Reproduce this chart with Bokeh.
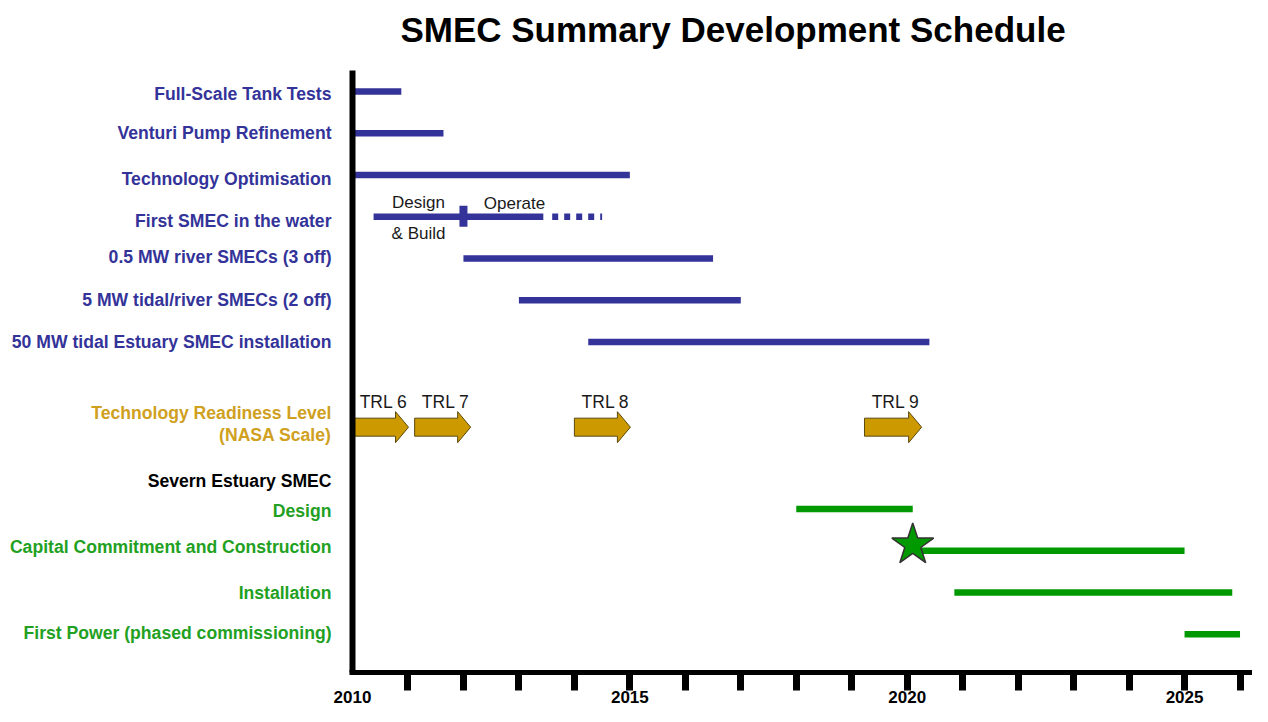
from bokeh.plotting import figure
from bokeh.models import Range1d, LinearAxis, FixedTicker, ColumnDataSource
from bokeh.core.properties import value
from bokeh.embed import file_html
from bokeh.resources import INLINE

# ---------------- data ----------------
chart_title = "SMEC Summary Development Schedule"

blue_tasks = ["Full-Scale Tank Tests", "Venturi Pump Refinement", "Technology Optimisation",
              "First SMEC in the water", "0.5 MW river SMECs (3 off)",
              "5 MW tidal/river SMECs (2 off)", "50 MW tidal Estuary SMEC installation"]
blue_rows = [0, 1, 2, 3, 4, 5, 6]
blue_start = [2010.0, 2010.0, 2010.0, 2010.38, 2012.0, 2013.0, 2014.25]
blue_end = [2010.88, 2011.64, 2015.0, 2013.44, 2016.5, 2017.0, 2020.4]

first_smec_row = 3
first_smec_milestone = 2012.0
first_smec_planned_start = 2013.6
first_smec_planned_end = 2014.5
phase_labels = ["Design", "& Build", "Operate"]
phase_x = [2011.19, 2011.19, 2012.92]

trl_labels = ["TRL 6", "TRL 7", "TRL 8", "TRL 9"]
trl_start = [2010.0, 2011.12, 2014.0, 2019.23]
trl_end = [2011.01, 2012.13, 2015.01, 2020.26]
trl_row = 8.04

green_tasks = ["Design", "Capital Commitment and Construction", "Installation",
               "First Power (phased commissioning)"]
green_rows = [10, 11, 12, 13]
green_start = [2018.0, 2020.1, 2020.85, 2025.0]
green_end = [2020.1, 2025.0, 2025.86, 2026.0]
commit_star_x = 2020.1
commit_star_row = 10.86

row_labels = blue_tasks + ["Technology Readiness Level", "(NASA Scale)", "Severn Estuary SMEC"] + green_tasks
label_rows = [0.07, 1.0, 2.1, 3.09, 3.97, 5.0, 6.0, 7.7, 8.22, 9.32, 10.04, 10.92, 12.02, 12.98]

year_ticks = list(range(2011, 2027))
year_labels = [2010, 2015, 2020, 2025]

# ---------------- layout / style ----------------
BLUE = "#333399"
GREEN = "#009900"
GREEN_TXT = "#22A022"
GOLD = "#CC9900"
GOLD_TXT = "#D0A020"
FONT = "Liberation Sans"

W, H = 1252, 706
PX_YEAR = 55.47          # pixels per year
X2010 = 352              # canvas x of 2010
PX_ROW = 41.75           # pixels per row
ROW0 = 91                # canvas y of row 0
FRAME_BOTTOM = 672
TICK_LEN = 18


def dx(px):
    return px / PX_YEAR


def dy(px):
    return px / PX_ROW


x_range = Range1d(2010 - dx(X2010), 2010 + dx(W - X2010))
y_range = Range1d(start=dy(FRAME_BOTTOM - ROW0), end=dy(0 - ROW0))

p = figure(width=W, height=H, x_range=x_range, y_range=y_range,
           x_axis_type=None, y_axis_type=None, title=None,
           output_backend="svg", toolbar_location=None,
           min_border_left=0, min_border_right=0, min_border_top=0,
           min_border_bottom=H - FRAME_BOTTOM)
p.outline_line_color = None
p.background_fill_color = "white"
p.border_fill_color = "white"

# title
p.text(x=[2010 + dx(732.5 - X2010)], y=[dy(29 - ROW0)], text=[chart_title],
       text_align="center", text_baseline="middle", text_font=value(FONT),
       text_font_style="bold", text_font_size="35px", text_color="black")

# blue task bars
bar_h = dy(6.5)
p.hbar(y=blue_rows, left=blue_start, right=blue_end, height=bar_h,
       fill_color=BLUE, line_color=None)
# planned (dotted) operation of first SMEC
p.segment(x0=[first_smec_planned_start], y0=[first_smec_row],
          x1=[first_smec_planned_end], y1=[first_smec_row],
          line_color=BLUE, line_width=6.5, line_dash="6 6")
# design/build -> operate milestone
p.segment(x0=[first_smec_milestone], y0=[first_smec_row - dy(11)],
          x1=[first_smec_milestone], y1=[first_smec_row + dy(10)],
          line_color=BLUE, line_width=8)
phase_y = [first_smec_row - dy(14), first_smec_row + dy(17), first_smec_row - dy(13)]
p.text(x=phase_x, y=phase_y, text=phase_labels, text_align="center", text_baseline="middle",
       text_font=value(FONT), text_font_size="17px", text_color="#1a1a1a")

# TRL arrows
head_l = dx(13)
body_h = dy(9)
head_h = dy(15.5)
axs, ays = [], []
for s, e in zip(trl_start, trl_end):
    axs.append([s, e - head_l, e - head_l, e, e - head_l, e - head_l, s])
    ays.append([trl_row - body_h, trl_row - body_h, trl_row - head_h, trl_row,
                trl_row + head_h, trl_row + body_h, trl_row + body_h])
p.patches(xs=axs, ys=ays, fill_color=GOLD, line_color="#5a4a10", line_width=1)
p.text(x=[s + dx(31) for s in trl_start], y=[trl_row - dy(25.5)] * len(trl_start),
       text=trl_labels, text_align="center", text_baseline="middle",
       text_font=value(FONT), text_font_size="17.5px", text_color="#1a1a1a")

# green bars
p.hbar(y=green_rows, left=green_start, right=green_end, height=bar_h,
       fill_color=GREEN, line_color=None)
p.scatter(x=[commit_star_x], y=[commit_star_row], marker="star", size=44,
          fill_color=GREEN, line_color="#333333", line_width=1.5)

# row labels
label_colors = [BLUE] * len(blue_tasks) + [GOLD_TXT, GOLD_TXT, "black"] + [GREEN_TXT] * len(green_tasks)
src = ColumnDataSource(dict(x=[2010] * len(row_labels), y=label_rows, text=row_labels, c=label_colors))
p.text(x="x", y="y", text="text", text_color="c", source=src, x_offset=-21,
       text_align="right", text_baseline="middle", text_font=value(FONT),
       text_font_style="bold", text_font_size="17.6px")

# vertical axis line
p.segment(x0=[2010], y0=[dy(70 - ROW0)], x1=[2010], y1=[y_range.start + 0.2],
          line_color="black", line_width=6)

# time axis
xaxis = LinearAxis(ticker=FixedTicker(ticks=year_labels, minor_ticks=year_ticks),
                   bounds=(2010 - dx(3), x_range.end))
xaxis.axis_line_width = 5
xaxis.axis_line_color = "black"
xaxis.major_tick_out = 0
xaxis.major_tick_in = 0
xaxis.major_tick_line_color = None
xaxis.minor_tick_out = TICK_LEN
xaxis.minor_tick_in = 0
xaxis.minor_tick_line_width = 7
xaxis.minor_tick_line_color = "black"
xaxis.major_label_standoff = 0
xaxis.major_label_text_font = FONT
xaxis.major_label_text_font_style = "bold"
xaxis.major_label_text_font_size = "17px"
xaxis.major_label_text_color = "black"
p.add_layout(xaxis, "below")

open("out.html", "w").write(file_html(p, INLINE))
